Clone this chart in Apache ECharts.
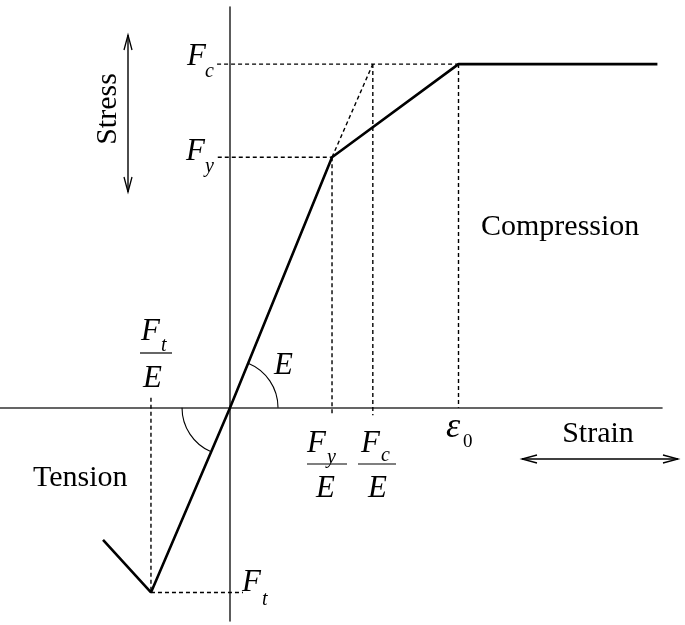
<!DOCTYPE html>
<html>
<head>
<meta charset="utf-8">
<script src="https://cdn.jsdelivr.net/npm/echarts@6/dist/echarts.min.js"></script>
<style>html,body{margin:0;padding:0;background:#fff;}#c{width:685px;height:625px;}</style>
</head>
<body>
<div id="c"></div>
<script>
// Key values (schematic units)
const curveStrain = [-1.245, -0.775, 0, 1.0, 2.24, 4.19];
const curveStress = [-0.528, -0.738, 0, 1.0, 1.372, 1.372];
const Fy = 1.0, Fc = 1.372, Ft = -0.738;
const FyE = 1.0, FcE = 1.4, eps0 = 2.24, FtE = -0.775;

const chart = echarts.init(document.getElementById('c'), null, {renderer: 'canvas'});
const serif = '"Liberation Serif", "DejaVu Serif", serif';

const dashedSegments = [
  [[-0.127, Fc], [eps0, Fc]],
  [[-0.12, Fy], [FyE, Fy]],
  [[FyE, Fy], [FcE, Fc]],
  [[FyE, Fy], [FyE, -0.03]],
  [[FcE, Fc], [FcE, -0.03]],
  [[eps0, Fc], [eps0, 0]],
  [[FtE, 0.04], [FtE, Ft]],
  [[FtE, Ft], [0.127, Ft]]
];

const series = [{
  type: 'line',
  data: curveStrain.map((x, i) => [x, curveStress[i]]),
  symbol: 'none',
  lineStyle: {color: '#000', width: 2.6},
  z: 5
}];
dashedSegments.forEach(seg => series.push({
  type: 'line', data: seg, symbol: 'none',
  lineStyle: {color: '#000', width: 1.4, type: [4, 3]}, z: 3
}));

chart.setOption({
  animation: false,
  grid: {left: 0, right: 23, top: 7, bottom: 4},
  xAxis: {type: 'value', min: -2.255, max: 4.235, splitLine: {show: false},
    axisTick: {show: false}, axisLabel: {show: false},
    axisLine: {onZero: true, lineStyle: {color: '#333', width: 1.6}}},
  yAxis: {type: 'value', min: -0.852, max: 1.6, splitLine: {show: false},
    axisTick: {show: false}, axisLabel: {show: false},
    axisLine: {onZero: true, lineStyle: {color: '#333', width: 1.6}}},
  series: series
});

const o = chart.convertToPixel({gridIndex: 0}, [0, 0]);
const pFy = chart.convertToPixel({gridIndex: 0}, [FyE, Fy]);
const pFt = chart.convertToPixel({gridIndex: 0}, [FtE, Ft]);
const angE = Math.atan2(pFy[1] - o[1], pFy[0] - o[0]);
const angT = Math.atan2(pFt[1] - o[1], pFt[0] - o[0]);

function txt(s, x, y, size, italic, align) {
  return {type: 'text', x: x, y: y, z: 10, style: {text: s, fill: '#000',
    font: (italic ? 'italic ' : '') + size + 'px ' + serif,
    textAlign: align || 'left', textVerticalAlign: 'middle'}};
}
function ln(x1, y1, x2, y2, w) {
  return {type: 'line', z: 10, shape: {x1: x1, y1: y1, x2: x2, y2: y2}, style: {stroke: '#000', lineWidth: w || 1}};
}
function poly(pts) {
  return {type: 'polyline', z: 10, shape: {points: pts}, style: {stroke: '#000', lineWidth: 1.3, fill: null}};
}

const g = [
  {type: 'arc', z: 10, shape: {cx: o[0], cy: o[1], r: 48, startAngle: angE, endAngle: 0, clockwise: true}, style: {stroke: '#000', lineWidth: 1.1, fill: null}},
  {type: 'arc', z: 10, shape: {cx: o[0], cy: o[1], r: 48, startAngle: angT, endAngle: Math.PI, clockwise: true}, style: {stroke: '#000', lineWidth: 1.1, fill: null}},
  // Stress arrow
  ln(128, 35, 128, 192, 1.4),
  poly([[124, 50], [128, 35], [132, 50]]),
  poly([[124, 177], [128, 192], [132, 177]]),
  // Strain arrow
  ln(522, 459, 678, 459, 1.4),
  poly([[537, 455], [522, 459], [537, 463]]),
  poly([[663, 455], [678, 459], [663, 463]]),
  {type: 'text', x: 108, y: 109, rotation: Math.PI / 2, z: 10, style: {text: 'Stress', fill: '#000', font: '30px ' + serif, textAlign: 'center', textVerticalAlign: 'middle'}},
  txt('F', 187, 57, 31, true), txt('c', 205, 72, 20, true),
  txt('F', 186, 152, 31, true), txt('y', 205, 167, 20, true),
  txt('Compression', 481, 227, 30, false),
  txt('F', 141, 332, 31, true), txt('t', 161, 346, 20, true),
  ln(140, 353, 172, 353, 1.2),
  txt('E', 143, 379, 31, true),
  txt('E', 274, 366, 31, true),
  txt('F', 307, 444, 31, true), txt('y', 327, 458, 20, true),
  ln(307, 464, 347, 464, 1.2),
  txt('E', 316, 489, 31, true),
  txt('F', 361, 444, 31, true), txt('c', 381, 456, 20, true),
  ln(358, 464, 396, 464, 1.2),
  txt('E', 368, 489, 31, true),
  txt('ε', 446, 428, 36, true), txt('0', 463, 442, 19, false),
  txt('Strain', 598, 434, 30, false, 'center'),
  txt('Tension', 33, 478, 30, false),
  txt('F', 242, 583, 31, true), txt('t', 262, 600, 20, true)
];
chart.setOption({graphic: g});
</script>
</body>
</html>
